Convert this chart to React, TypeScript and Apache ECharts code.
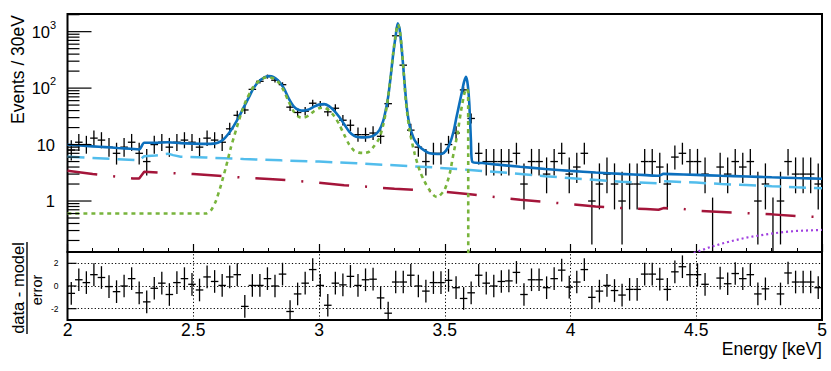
import React, { useEffect, useRef } from 'react';
import * as echarts from 'echarts';

// ---------------- data ----------------
const energyMin = 2.0;
const energyMax = 5.0;
const binHalfWidth = 0.015;

const energy = [
  2.015, 2.045, 2.075, 2.105, 2.135, 2.165, 2.195, 2.225, 2.255, 2.285,
  2.315, 2.345, 2.375, 2.405, 2.435, 2.465, 2.495, 2.525, 2.555, 2.585,
  2.615, 2.645, 2.675, 2.705, 2.735, 2.765, 2.795, 2.825, 2.855, 2.885,
  2.915, 2.945, 2.975, 3.005, 3.035, 3.065, 3.095, 3.125, 3.155, 3.185,
  3.215, 3.245, 3.275, 3.305, 3.335, 3.365, 3.395, 3.425, 3.455, 3.485,
  3.515, 3.545, 3.575, 3.605, 3.635, 3.665, 3.695, 3.725, 3.755, 3.785,
  3.815, 3.845, 3.875, 3.905, 3.935, 3.965, 3.995, 4.025, 4.055, 4.085,
  4.115, 4.145, 4.175, 4.205, 4.235, 4.265, 4.295, 4.325, 4.355, 4.385,
  4.415, 4.445, 4.475, 4.505, 4.535, 4.565, 4.595, 4.625, 4.655, 4.685,
  4.715, 4.745, 4.775, 4.805, 4.835, 4.865, 4.895, 4.925, 4.955, 4.985,
];

const counts = [
  8, 11, 10, 13, 12, 9, 7, 9, 11, 7,
  5, 10, 11, 9, 11, 12, 11, 9, 13, 12,
  11, 19, 33, 41, 95, 132, 160, 138, 115, 46,
  37, 39, 54, 51, 38, 44, 27, 22, 15, 15,
  16, 14, 53, 845, 255, 18, 9, 5, 7, 7,
  10, 16, 93, 29, 7, 5, 5, 5, 5, 7,
  2, 5, 5, 3, 5, 7, 3, 4, 7, 1,
  2, 3, 2, 1, 2, 2, 5, 5, 4, 2,
  6, 7, 5, 5, 3, 0, 4, 3, 5, 4,
  5, 1, 2, 0, 1, 5, 3, 3, 3, 2,
];

const errLow = [
  2.77, 3.27, 3.11, 3.56, 3.41, 2.94, 2.58, 2.94, 3.27, 2.58,
  2.16, 3.11, 3.27, 2.94, 3.27, 3.41, 3.27, 2.94, 3.56, 3.41,
  3.27, 4.30, 5.72, 6.38, 9.73, 11.47, 12.63, 11.73, 10.70, 6.77,
  6.06, 6.22, 7.33, 7.12, 6.14, 6.62, 5.17, 4.62, 3.82, 3.82,
  3.95, 3.69, 7.26, 29.05, 15.95, 4.19, 2.94, 2.16, 2.58, 2.58,
  3.11, 3.95, 9.63, 5.36, 2.58, 2.16, 2.16, 2.16, 2.16, 2.58,
  1.29, 2.16, 2.16, 1.63, 2.16, 2.58, 1.63, 1.91, 2.58, 0.83,
  1.29, 1.63, 1.29, 0.83, 1.29, 1.29, 2.16, 2.16, 1.91, 1.29,
  2.38, 2.58, 2.16, 2.16, 1.63, 0, 1.91, 1.63, 2.16, 1.91,
  2.16, 0.83, 1.29, 0, 0.83, 2.16, 1.63, 1.63, 1.63, 1.29,
];

const errHigh = [
  3.94, 4.42, 4.27, 4.70, 4.56, 4.11, 3.77, 4.11, 4.42, 3.77,
  3.38, 4.27, 4.42, 4.11, 4.42, 4.56, 4.42, 4.11, 4.70, 4.56,
  4.42, 5.43, 6.80, 7.45, 10.77, 12.50, 13.66, 12.77, 11.75, 7.82,
  7.12, 7.28, 8.38, 8.17, 7.20, 7.67, 6.25, 5.75, 4.96, 4.96,
  5.08, 4.83, 8.31, 30.07, 16.98, 5.32, 4.11, 3.38, 3.77, 3.77,
  4.27, 5.08, 10.67, 6.43, 3.77, 3.38, 3.38, 3.38, 3.38, 3.77,
  2.64, 3.38, 3.38, 2.92, 3.38, 3.77, 2.92, 3.16, 3.77, 2.30,
  2.64, 2.92, 2.64, 2.30, 2.64, 2.64, 3.38, 3.38, 3.16, 2.64,
  3.58, 3.77, 3.38, 3.38, 2.92, 1.15, 3.16, 2.92, 3.38, 3.16,
  3.38, 2.30, 2.64, 1.15, 2.30, 3.38, 2.92, 2.92, 2.92, 2.64,
];

const residuals: (number | null)[] = [
  -0.65, 0.55, 0.3, 1.0, 0.75, -0.05, -0.5, 0.0, 0.65, -0.6,
  -1.4, -0.2, 0.25, -0.75, 0.3, 0.65, 0.15, -0.35, 0.8, 0.4,
  0.05, 0.8, 1.0, -1.8, 0.05, 0.05, 0.65, 0.0, 1.05, -2.25,
  -0.7, 0.25, 1.45, 0.05, -1.7, 0.25, 0.1, 0.85, 0.05, 0.55,
  0.6, -1.05, -2.4, 0.35, 0.35, 0.95, 0.0, -0.45, 0.3, 0.3,
  0.5, -0.15, -1.1, -0.6, 0.95, 0.25, 0.0, 0.4, 0.45, 1.2,
  -0.75, 0.55, 0.55, -0.15, 0.65, 1.4, -0.1, 0.35, 1.45, -1.0,
  -0.45, 0.05, -0.4, -0.8, -0.3, -0.3, 1.05, 1.05, 0.6, -0.3,
  1.25, 1.7, 1.0, 1.0, 0.15, null, 0.7, 0.2, 1.1, 0.65,
  1.0, -0.7, -0.25, null, -0.7, 1.15, 0.35, 0.35, 0.35, -0.15,
];
const residualErr = 1;

// model curves [energy keV, events / 30 eV]
const totalModel: [number, number][] = [
  [2.0, 9.9], [2.05, 9.6], [2.1, 9.3], [2.15, 9.0], [2.2, 8.7], [2.25, 8.45], [2.285, 8.2],
  [2.305, 10.8], [2.35, 10.7], [2.4, 11.0], [2.45, 10.6], [2.5, 10.4], [2.55, 10.3], [2.58, 10.4],
  [2.6, 10.9], [2.62, 12.3], [2.64, 15.5], [2.66, 21], [2.68, 30], [2.7, 45], [2.72, 67],
  [2.74, 100], [2.76, 130], [2.78, 152], [2.8, 163], [2.82, 157], [2.84, 133], [2.86, 100],
  [2.88, 65], [2.9, 47], [2.92, 41], [2.94, 40], [2.96, 42], [2.98, 47], [3.0, 51], [3.02, 52],
  [3.04, 48], [3.06, 40], [3.08, 31], [3.1, 23], [3.12, 17], [3.14, 14.3], [3.16, 13.5],
  [3.18, 13.4], [3.2, 13.6], [3.22, 14.6], [3.24, 18], [3.255, 26], [3.265, 40], [3.275, 70],
  [3.285, 160], [3.295, 400], [3.305, 850], [3.313, 1400], [3.32, 1150], [3.327, 600],
  [3.335, 240], [3.342, 100], [3.35, 42], [3.36, 22], [3.37, 15.5], [3.38, 12], [3.4, 9.1],
  [3.42, 7.8], [3.44, 7.0], [3.47, 6.8], [3.49, 6.9], [3.505, 7.8], [3.52, 10.3], [3.535, 17],
  [3.547, 31], [3.557, 50], [3.567, 80], [3.577, 130], [3.585, 158], [3.592, 110], [3.598, 50],
  [3.604, 12], [3.61, 4.9], [3.65, 4.7], [3.7, 4.45], [3.8, 4.05], [3.9, 3.7], [4.0, 3.42],
  [4.1, 3.2], [4.2, 3.02], [4.3, 2.87], [4.35, 2.8], [4.37, 3.02], [4.4, 3.0], [4.5, 2.9],
  [4.6, 2.8], [4.7, 2.72], [4.8, 2.63], [4.9, 2.55], [5.0, 2.48],
];

const lineModel: [number, number][] = [
  [2.0, 0.6], [2.55, 0.6], [2.57, 0.68], [2.59, 1.0], [2.61, 1.9], [2.63, 4], [2.65, 9],
  [2.67, 18], [2.69, 35], [2.71, 60], [2.73, 90], [2.75, 120], [2.77, 143], [2.79, 155],
  [2.8, 156], [2.82, 148], [2.84, 125], [2.86, 90], [2.88, 57], [2.9, 38], [2.92, 31],
  [2.94, 30], [2.96, 33], [2.98, 39], [3.0, 44], [3.02, 45], [3.04, 40], [3.06, 32],
  [3.08, 23], [3.1, 15], [3.12, 10], [3.14, 7.8], [3.16, 7.2], [3.18, 7.1], [3.2, 7.5],
  [3.22, 9.5], [3.24, 13], [3.255, 22], [3.265, 36], [3.275, 70], [3.285, 160], [3.295, 420],
  [3.305, 900], [3.314, 1350], [3.322, 1000], [3.33, 450], [3.337, 180], [3.345, 60],
  [3.36, 18], [3.38, 7], [3.4, 3.5], [3.42, 2.2], [3.44, 1.55], [3.46, 1.22], [3.47, 1.18],
  [3.48, 1.25], [3.5, 1.6], [3.52, 3.1], [3.535, 7], [3.55, 15], [3.565, 40], [3.578, 80],
  [3.586, 98], [3.593, 85], [3.5935, 0.01],
];

const bkgOne: [number, number][] = [
  [2.0, 6.1], [2.1, 5.8], [2.2, 5.5], [2.285, 5.25], [2.305, 6.2], [2.35, 6.4], [2.4, 6.9],
  [2.42, 6.5], [2.45, 6.1], [2.55, 5.9], [2.7, 5.55], [2.85, 5.25], [3.0, 5.0], [3.15, 4.65],
  [3.3, 4.3], [3.45, 3.95], [3.6, 3.55], [3.75, 3.15], [3.9, 2.75], [4.05, 2.45], [4.2, 2.2],
  [4.35, 2.05], [4.37, 2.25], [4.4, 2.22], [4.5, 2.12], [4.6, 2.0], [4.7, 1.92], [4.8, 1.83],
  [4.9, 1.75], [5.0, 1.68],
];

const bkgTwo: [number, number][] = [
  [2.0, 3.45], [2.1, 3.0], [2.2, 2.7], [2.26, 2.5], [2.285, 2.5], [2.305, 3.3], [2.4, 3.15],
  [2.5, 3.0], [2.6, 2.8], [2.7, 2.6], [2.8, 2.45], [2.9, 2.3], [3.0, 2.1], [3.1, 1.9],
  [3.2, 1.78], [3.3, 1.65], [3.4, 1.55], [3.5, 1.45], [3.6, 1.32], [3.7, 1.18], [3.8, 1.05],
  [3.9, 0.96], [4.0, 0.88], [4.1, 0.8], [4.2, 0.75], [4.3, 0.72], [4.35, 0.7], [4.37, 0.75],
  [4.45, 0.72], [4.5, 0.67], [4.6, 0.64], [4.7, 0.61], [4.8, 0.58], [4.9, 0.54], [5.0, 0.52],
];

const extraComp: [number, number][] = [
  [4.49, 0.12], [4.55, 0.15], [4.6, 0.175], [4.65, 0.2], [4.7, 0.225], [4.75, 0.245],
  [4.8, 0.265], [4.85, 0.283], [4.9, 0.295], [4.95, 0.302], [5.0, 0.307],
];

// axis ticks / labels
const topYMin = 0.125;
const topYMax = 2055;
const majorTickValues = [1, 10, 100, 1000];
const minorTickValues = [
  0.2, 0.3, 0.4, 0.5, 0.6, 0.7, 0.8, 0.9,
  2, 3, 4, 5, 6, 7, 8, 9,
  20, 30, 40, 50, 60, 70, 80, 90,
  200, 300, 400, 500, 600, 700, 800, 900, 2000,
];
const topLabelBase = ['1', '10', '10', '10'];
const topLabelExp = ['', '', '2', '3'];
const resYMin = -3;
const resYMax = 3;
const resTickValues = [-2, 0, 2];
const resTickLabels = ['-2', '0', '2'];
const resGridY = [-2, 0, 2];
const resGridX = [2.5, 3, 3.5, 4, 4.5];

const FONT = "'Liberation Sans', Arial, Helvetica, sans-serif";

export default function App() {
  const ref = useRef<HTMLDivElement>(null);
  useEffect(() => {
    document.body.style.margin = '0';
    document.body.style.overflow = 'hidden';
    const chart = echarts.init(ref.current!, null, { renderer: 'svg' });

    const dataItems = energy.map((e, i) => [e, counts[i], errLow[i], errHigh[i]]);
    const resItems: number[][] = [];
    residuals.forEach((r, i) => {
      if (r !== null) resItems.push([energy[i], r]);
    });

    const crossStyle = { stroke: '#000', lineWidth: 1.3 };

    const option: any = {
      animation: false,
      textStyle: { fontFamily: FONT },
      grid: [
        { left: 67.5, top: 14, width: 754.5, height: 238, show: true, borderColor: '#000', borderWidth: 2, backgroundColor: 'transparent' },
        { left: 67.5, top: 252, width: 754.5, height: 68, show: true, borderColor: '#000', borderWidth: 2, backgroundColor: 'transparent' },
      ],
      xAxis: [
        {
          gridIndex: 0, type: 'value', min: energyMin, max: energyMax, interval: 0.5,
          axisLine: { show: false }, axisLabel: { show: false }, splitLine: { show: false },
          axisTick: { show: true, inside: true, length: 8, lineStyle: { color: '#000', width: 1.2 } },
          minorTick: { show: true, splitNumber: 5, length: 4, lineStyle: { color: '#000', width: 1 } },
        },
        {
          gridIndex: 1, type: 'value', min: energyMin, max: energyMax, interval: 0.5,
          axisLine: { show: false }, splitLine: { show: false }, axisTick: { show: false },
          axisLabel: { show: true, color: '#000', fontSize: 17.5, fontFamily: FONT, margin: 1, showMinLabel: true, showMaxLabel: true },
        },
      ],
      yAxis: [
        {
          gridIndex: 0, type: 'log', logBase: 10, min: topYMin, max: topYMax,
          axisLine: { show: false }, axisLabel: { show: false }, axisTick: { show: false }, splitLine: { show: false },
        },
        {
          gridIndex: 1, type: 'value', min: resYMin, max: resYMax,
          axisLine: { show: false }, axisLabel: { show: false }, axisTick: { show: false }, splitLine: { show: false },
        },
      ],
      graphic: [
        { type: 'text', x: 17.5, y: 15, rotation: Math.PI / 2, style: { text: 'Events / 30eV', fontSize: 17.5, fontFamily: FONT, fill: '#000', align: 'right', verticalAlign: 'middle' } },
        { type: 'text', x: 17.5, y: 288, rotation: Math.PI / 2, style: { text: 'data - model', fontSize: 16.5, fontFamily: FONT, fill: '#000', align: 'center', verticalAlign: 'middle' } },
        { type: 'text', x: 36.5, y: 290, rotation: Math.PI / 2, style: { text: 'error', fontSize: 14.5, fontFamily: FONT, fill: '#000', align: 'center', verticalAlign: 'middle' } },
        { type: 'line', shape: { x1: 27, y1: 242, x2: 27, y2: 334 }, style: { stroke: '#000', lineWidth: 1.4 } },
        { type: 'text', x: 822, y: 349, style: { text: 'Energy [keV]', fontSize: 17.5, fontFamily: FONT, fill: '#000', align: 'right', verticalAlign: 'middle' } },
      ],
      series: [
        // y ticks (top, log)
        {
          type: 'custom', xAxisIndex: 0, yAxisIndex: 0, silent: true, clip: false, z: 5,
          data: majorTickValues.map((v) => [energyMin, v, 1]).concat(minorTickValues.map((v) => [energyMin, v, 0])),
          renderItem: (params: any, api: any) => {
            const p = api.coord([api.value(0), api.value(1)]);
            const len = api.value(2) ? 24 : 12;
            return { type: 'line', shape: { x1: p[0], y1: p[1], x2: p[0] + len, y2: p[1] }, style: { stroke: '#000', lineWidth: 1.2 } };
          },
        },
        // y labels (top)
        {
          type: 'custom', xAxisIndex: 0, yAxisIndex: 0, silent: true, clip: false, z: 5,
          data: majorTickValues.map((v, i) => [energyMin, v, i]),
          renderItem: (params: any, api: any) => {
            const p = api.coord([api.value(0), api.value(1)]);
            const i = api.value(2);
            const exp = topLabelExp[i];
            const children: any[] = [];
            if (exp) {
              children.push({ type: 'text', x: p[0] - 17.5, y: p[1], style: { text: topLabelBase[i], fontSize: 16.5, fontFamily: FONT, fill: '#000', align: 'right', verticalAlign: 'middle' } });
              children.push({ type: 'text', x: p[0] - 17.5, y: p[1] - 7, style: { text: exp, fontSize: 11, fontFamily: FONT, fill: '#000', align: 'left', verticalAlign: 'middle' } });
            } else {
              children.push({ type: 'text', x: p[0] - 12.5, y: p[1], style: { text: topLabelBase[i], fontSize: 16.5, fontFamily: FONT, fill: '#000', align: 'right', verticalAlign: 'middle' } });
            }
            return { type: 'group', children };
          },
        },
        // residual y ticks + labels
        {
          type: 'custom', xAxisIndex: 1, yAxisIndex: 1, silent: true, clip: false, z: 5,
          data: resTickValues.map((v, i) => [energyMin, v, i]),
          renderItem: (params: any, api: any) => {
            const p = api.coord([api.value(0), api.value(1)]);
            const i = api.value(2);
            return {
              type: 'group',
              children: [
                { type: 'line', shape: { x1: p[0], y1: p[1], x2: p[0] + 9, y2: p[1] }, style: { stroke: '#000', lineWidth: 1.2 } },
                { type: 'text', x: p[0] - 9, y: p[1], style: { text: resTickLabels[i], fontSize: 8.5, fontFamily: FONT, fill: '#000', align: 'right', verticalAlign: 'middle' } },
              ],
            };
          },
        },
        // residual grid lines
        {
          type: 'line', xAxisIndex: 1, yAxisIndex: 1, data: [], silent: true,
          markLine: {
            silent: true, symbol: ['none', 'none'], label: { show: false },
            lineStyle: { color: '#000', type: [1.2, 2.2], width: 1 },
            data: [...resGridY.map((v) => ({ yAxis: v })), ...resGridX.map((v) => ({ xAxis: v }))],
          },
        },
        // data points
        {
          type: 'custom', xAxisIndex: 0, yAxisIndex: 0, silent: true, clip: true, z: 3,
          encode: { x: 0, y: 1 },
          data: dataItems,
          renderItem: (params: any, api: any) => {
            const e = api.value(0);
            const n = api.value(1);
            const lo = api.value(2);
            const hi = api.value(3);
            const bottomVal = n - lo > 0 ? n - lo : topYMin * 0.5;
            const top = api.coord([e, n + hi]);
            const bot = api.coord([e, bottomVal]);
            const children: any[] = [
              { type: 'line', shape: { x1: top[0], y1: top[1], x2: bot[0], y2: bot[1] }, style: crossStyle },
            ];
            if (n > 0) {
              const l = api.coord([e - binHalfWidth, n]);
              const r = api.coord([e + binHalfWidth, n]);
              children.push({ type: 'line', shape: { x1: l[0], y1: l[1], x2: r[0], y2: r[1] }, style: crossStyle });
            }
            return { type: 'group', children };
          },
        },
        // residual points
        {
          type: 'custom', xAxisIndex: 1, yAxisIndex: 1, silent: true, clip: true, z: 3,
          encode: { x: 0, y: 1 },
          data: resItems,
          renderItem: (params: any, api: any) => {
            const e = api.value(0);
            const r = api.value(1);
            const top = api.coord([e, r + residualErr]);
            const bot = api.coord([e, r - residualErr]);
            const l = api.coord([e - binHalfWidth, r]);
            const rr = api.coord([e + binHalfWidth, r]);
            return {
              type: 'group',
              children: [
                { type: 'line', shape: { x1: top[0], y1: top[1], x2: bot[0], y2: bot[1] }, style: crossStyle },
                { type: 'line', shape: { x1: l[0], y1: l[1], x2: rr[0], y2: rr[1] }, style: crossStyle },
              ],
            };
          },
        },
        {
          type: 'line', xAxisIndex: 0, yAxisIndex: 0, data: bkgOne, showSymbol: false, silent: true, z: 4,
          lineStyle: { color: '#52bdec', width: 2.5, type: [17, 8] },
        },
        {
          type: 'line', xAxisIndex: 0, yAxisIndex: 0, data: bkgTwo, showSymbol: false, silent: true, z: 4,
          lineStyle: { color: '#a4153a', width: 2.5, type: [30, 16, 2, 16] },
        },
        {
          type: 'line', xAxisIndex: 0, yAxisIndex: 0, data: extraComp, showSymbol: false, silent: true, z: 4,
          lineStyle: { color: '#a040e0', width: 2.2, type: [2, 3] },
        },
        {
          type: 'line', xAxisIndex: 0, yAxisIndex: 0, data: totalModel, showSymbol: false, silent: true, z: 4,
          smooth: 0.25,
          lineStyle: { color: '#0c6fbd', width: 2.6 },
        },
        {
          type: 'line', xAxisIndex: 0, yAxisIndex: 0, data: lineModel, showSymbol: false, silent: true, z: 4,
          smooth: 0.25,
          lineStyle: { color: '#78b43c', width: 2.6, type: [4, 4] },
        },
      ],
    };

    chart.setOption(option);
    return () => chart.dispose();
  }, []);
  return <div ref={ref} style={{ width: 831, height: 371 }} />;
}
